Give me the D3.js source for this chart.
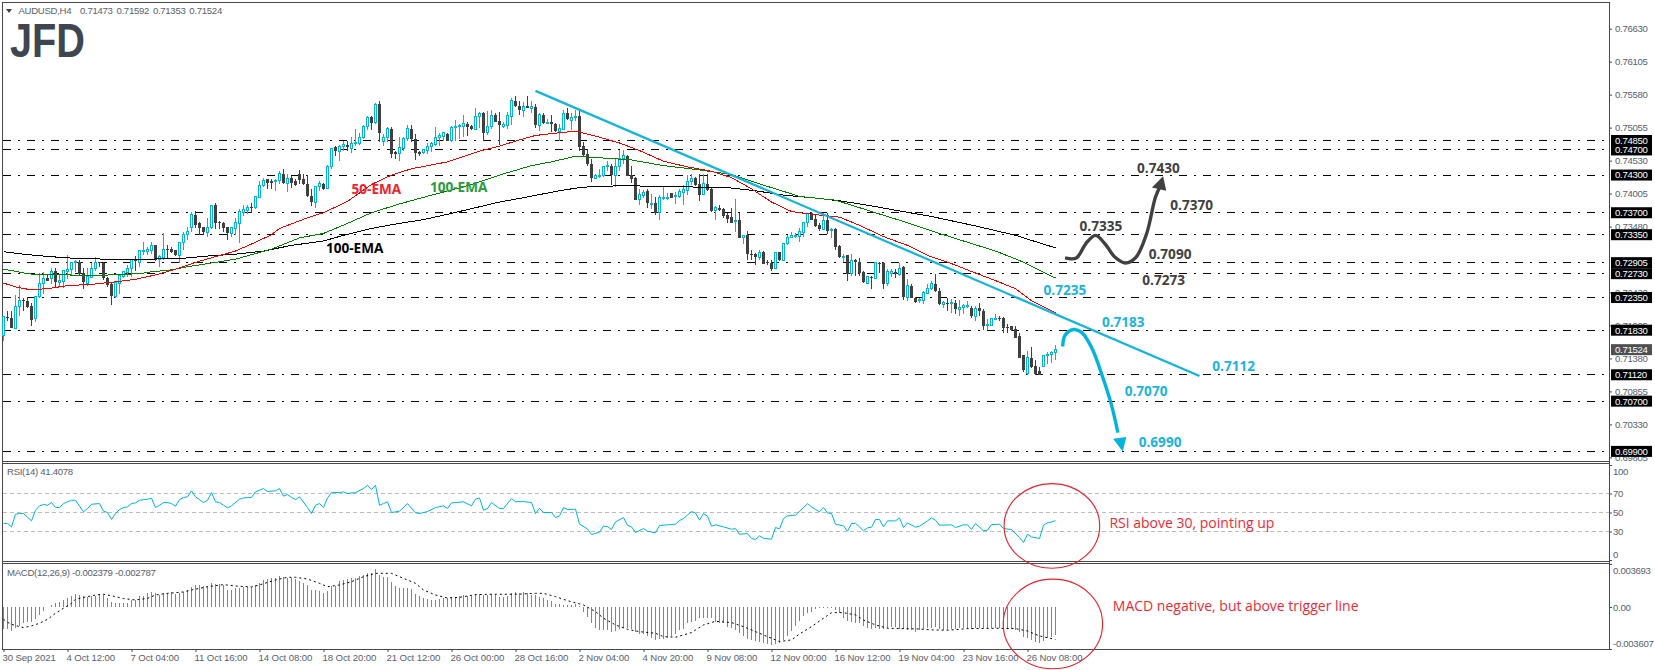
<!DOCTYPE html>
<html>
<head>
<meta charset="utf-8">
<title>AUDUSD H4</title>
<script src="https://cdn.jsdelivr.net/npm/d3@7"></script>
<style>
  body { margin: 0; background: #fff; }
  svg { display: block; font-family: "Liberation Sans", Arial, sans-serif; }
  .tick text, .small { font-size: 9.6px; letter-spacing: -0.3px; fill: #56616e; }
  .dates .tick text { letter-spacing: -0.1px; }
  .head { word-spacing: 1.5px; }
  .domain { display: none; }
  .tick line { stroke: #444; }
  .note { font-family: "Open Sans", sans-serif; font-weight: 700; font-size: 13.6px; }
  .red { font-family: "Open Sans", sans-serif; font-size: 14px; fill: #ee2a36; }
</style>
</head>
<body>
<svg id="chart" width="1655" height="670"></svg>
<script>
// prices are kept as price x 10000, MACD as value x 100000
var opens = [7175,7204,7203,7186,7221,7231,7230,7222,7202,7237,
  7257,7266,7266,7278,7259,7261,7277,7280,7290,7292,
  7274,7257,7267,7282,7291,7290,7266,7257,7237,7258,
  7268,7275,7281,7295,7291,7308,7309,7310,7318,7295,
  7299,7313,7313,7310,7302,7322,7335,7347,7367,7353,
  7347,7339,7347,7382,7355,7354,7347,7337,7345,7353,
  7371,7374,7379,7378,7395,7414,7423,7421,7420,7421,
  7432,7417,7425,7420,7431,7423,7415,7397,7387,7412,
  7416,7408,7443,7474,7468,7476,7478,7473,7480,7481,
  7489,7508,7522,7513,7543,7484,7489,7504,7467,7465,
  7472,7488,7504,7488,7467,7466,7469,7475,7479,7489,
  7492,7496,7485,7505,7508,7508,7512,7508,7503,7523,
  7528,7497,7507,7525,7516,7508,7509,7524,7548,7540,
  7533,7540,7536,7539,7509,7526,7513,7515,7512,7500,
  7502,7528,7517,7521,7524,7476,7463,7448,7425,7428,
  7430,7443,7445,7430,7443,7456,7461,7430,7425,7391,
  7397,7404,7383,7386,7371,7393,7393,7401,7396,7396,
  7403,7406,7420,7425,7416,7399,7416,7408,7374,7378,
  7376,7366,7363,7356,7358,7330,7334,7305,7304,7299,
  7307,7292,7290,7282,7307,7294,7321,7330,7332,7332,
  7339,7354,7370,7360,7350,7343,7359,7342,7344,7317,
  7299,7302,7273,7294,7292,7275,7258,7268,7266,7290,
  7290,7257,7273,7276,7272,7284,7235,7254,7235,7230,
  7231,7242,7249,7257,7246,7224,7226,7226,7227,7216,
  7219,7222,7219,7205,7218,7213,7191,7191,7201,7203,
  7203,7188,7189,7185,7173,7143,7114,7139,7126,7118,
  7125,7143,7145,7147];
var highs = [7204,7213,7214,7239,7255,7235,7236,7227,7237,7274,
  7275,7273,7282,7282,7272,7279,7303,7291,7294,7294,
  7282,7282,7290,7300,7292,7292,7268,7259,7260,7271,
  7277,7287,7297,7301,7311,7324,7316,7324,7318,7302,
  7338,7319,7315,7311,7323,7339,7347,7371,7372,7355,
  7348,7361,7381,7385,7357,7356,7348,7347,7362,7376,
  7382,7382,7385,7396,7421,7426,7423,7423,7424,7436,
  7440,7431,7429,7423,7438,7431,7430,7407,7413,7420,
  7418,7446,7473,7476,7478,7485,7484,7491,7504,7497,
  7510,7524,7524,7545,7548,7496,7506,7506,7469,7491,
  7491,7510,7510,7496,7469,7471,7481,7482,7506,7497,
  7498,7497,7508,7517,7512,7525,7514,7510,7536,7531,
  7531,7532,7534,7528,7531,7515,7531,7552,7556,7548,
  7546,7556,7548,7543,7528,7528,7520,7525,7513,7512,
  7533,7536,7528,7533,7533,7483,7472,7456,7432,7440,
  7445,7452,7448,7456,7470,7470,7462,7444,7427,7407,
  7406,7407,7400,7395,7398,7411,7401,7401,7403,7408,
  7414,7430,7431,7427,7431,7431,7431,7411,7380,7382,
  7378,7370,7378,7392,7370,7335,7341,7311,7306,7311,
  7309,7294,7294,7307,7308,7322,7335,7339,7338,7345,
  7355,7370,7371,7368,7353,7369,7369,7345,7346,7318,
  7305,7303,7305,7297,7298,7277,7270,7270,7292,7291,
  7292,7281,7281,7281,7290,7285,7265,7257,7236,7234,
  7245,7256,7262,7273,7250,7230,7235,7233,7231,7231,
  7225,7230,7222,7222,7227,7217,7201,7202,7209,7206,
  7204,7193,7190,7190,7178,7144,7150,7157,7135,7125,
  7143,7149,7150,7159];
var lows = [7166,7197,7186,7186,7205,7213,7219,7190,7196,7235,
  7240,7262,7257,7250,7251,7250,7265,7271,7275,7270,
  7248,7254,7266,7278,7283,7263,7252,7223,7235,7240,
  7266,7267,7268,7278,7284,7302,7302,7305,7293,7284,
  7295,7298,7306,7301,7290,7311,7327,7339,7345,7334,
  7334,7332,7344,7344,7344,7340,7327,7332,7334,7322,
  7365,7368,7369,7376,7394,7411,7408,7408,7404,7415,
  7416,7403,7410,7413,7415,7414,7395,7381,7378,7404,
  7406,7407,7440,7461,7453,7468,7468,7465,7477,7478,
  7488,7501,7501,7512,7482,7477,7483,7457,7456,7452,
  7468,7485,7483,7454,7461,7464,7464,7467,7477,7477,
  7485,7484,7483,7485,7488,7491,7492,7502,7501,7505,
  7485,7494,7504,7514,7478,7505,7504,7509,7538,7526,
  7522,7536,7529,7505,7500,7511,7512,7499,7499,7485,
  7501,7517,7502,7516,7468,7459,7444,7419,7424,7426,
  7427,7436,7414,7411,7436,7448,7428,7417,7390,7382,
  7394,7378,7376,7367,7358,7390,7391,7393,7384,7394,
  7383,7398,7414,7412,7389,7398,7405,7371,7359,7373,
  7362,7354,7353,7339,7329,7321,7294,7295,7287,7294,
  7288,7287,7278,7281,7293,7293,7318,7329,7330,7323,
  7331,7347,7358,7347,7341,7342,7336,7330,7310,7298,
  7291,7261,7270,7270,7270,7258,7257,7249,7265,7274,
  7248,7254,7268,7266,7270,7231,7230,7234,7227,7227,
  7225,7241,7247,7243,7223,7219,7214,7210,7209,7206,
  7209,7218,7203,7197,7206,7183,7183,7189,7199,7198,
  7179,7178,7181,7171,7138,7117,7112,7122,7112,7111,
  7125,7129,7130,7135];
var closes = [7204,7202,7187,7221,7231,7229,7220,7200,7237,7257,
  7265,7262,7276,7259,7262,7278,7280,7290,7293,7272,
  7260,7268,7282,7291,7290,7266,7255,7237,7259,7270,
  7276,7281,7295,7294,7310,7310,7311,7318,7295,7300,
  7312,7312,7307,7302,7322,7335,7340,7367,7351,7345,
  7339,7347,7381,7353,7353,7345,7337,7346,7355,7372,
  7375,7378,7378,7396,7414,7422,7417,7418,7421,7433,
  7418,7425,7418,7414,7422,7415,7396,7387,7412,7416,
  7408,7444,7472,7469,7476,7478,7474,7480,7482,7490,
  7508,7522,7513,7543,7497,7490,7504,7464,7463,7474,
  7488,7504,7488,7465,7464,7470,7475,7480,7490,7493,
  7497,7485,7506,7508,7509,7512,7507,7503,7523,7528,
  7497,7507,7525,7515,7509,7511,7525,7548,7540,7534,
  7539,7537,7539,7509,7526,7513,7514,7511,7500,7504,
  7528,7519,7521,7524,7475,7462,7448,7425,7430,7430,
  7444,7445,7430,7444,7456,7461,7429,7423,7391,7399,
  7403,7386,7385,7370,7394,7394,7395,7394,7398,7404,
  7407,7420,7425,7414,7399,7416,7406,7372,7379,7374,
  7364,7360,7354,7358,7330,7334,7304,7302,7299,7306,
  7289,7290,7281,7306,7294,7321,7331,7333,7334,7340,
  7354,7369,7359,7349,7344,7358,7341,7344,7315,7299,
  7301,7273,7294,7292,7274,7259,7268,7266,7290,7288,
  7257,7277,7276,7273,7282,7236,7254,7235,7228,7232,
  7243,7249,7257,7245,7224,7227,7225,7227,7216,7219,
  7223,7222,7205,7218,7213,7190,7192,7201,7202,7202,
  7187,7187,7183,7171,7139,7119,7139,7124,7113,7112,
  7142,7145,7147,7152];

// moving averages, read at the bars where the curve bends
var ema50Bars = [0,3,7,12,16,22,28,33,38,43,48,53,58,63,67,69,76,80,86,92,97,102,111,119,124,129,133,137,143,148,154,159,165,171,177,182,187,192,197,199,203,209,214,220,226,231,237,243,248,253,257,263];
var ema50 = [7258,7252,7247,7250,7254,7256,7260,7264,7271,7280,7291,7300,7309,7323,7335,7345,7362,7370,7388,7415,7430,7440,7451,7468,7476,7486,7493,7496,7500,7492,7481,7469,7452,7443,7436,7426,7408,7387,7372,7370,7367,7363,7350,7332,7318,7302,7289,7274,7262,7249,7230,7211];
var ema100Bars = [0,2,6,9,16,21,27,34,37,42,46,53,58,63,67,74,80,86,92,99,107,116,124,132,137,143,148,157,165,173,182,190,199,208,218,226,234,241,248,254,263];
var ema100 = [7280,7278,7273,7271,7271,7270,7271,7273,7276,7279,7284,7291,7296,7305,7312,7330,7337,7353,7370,7384,7398,7413,7430,7445,7451,7460,7458,7454,7445,7439,7431,7414,7396,7390,7370,7354,7337,7323,7309,7294,7266];
var ema200Bars = [0,5,10,16,22,28,35,44,51,58,65,72,80,85,92,98,105,112,118,124,130,139,144,148,156,163,172,181,188,195,202,209,216,223,232,243,253,263];
var ema200 = [7308,7304,7301,7298,7297,7295,7296,7297,7301,7304,7309,7318,7325,7334,7345,7352,7359,7369,7378,7387,7394,7405,7410,7412,7413,7412,7411,7410,7405,7398,7394,7389,7382,7374,7364,7349,7334,7314];

var rsiBars = [0,1,2,3,4,5,7,8,9,10,11,12,13,14,15,16,17,18,20,21,22,24,25,26,27,28,29,30,31,32,33,34,36,37,38,39,40,41,42,43,44,45,46,47,48,50,51,52,53,54,55,56,57,59,60,62,63,65,66,68,69,70,71,72,73,74,76,77,78,79,80,81,82,84,85,86,88,90,91,92,93,94,95,96,97,98,99,101,103,104,106,108,110,111,112,115,117,118,119,120,121,122,124,125,127,128,130,132,133,134,135,137,138,139,140,141,143,144,146,147,149,150,151,152,153,155,156,157,158,160,161,163,164,166,168,169,170,172,173,174,175,176,177,178,180,182,183,184,186,187,188,189,190,192,193,194,195,196,198,200,201,202,204,205,206,207,208,210,211,212,213,215,216,217,218,219,220,221,223,224,225,226,228,229,231,232,233,234,237,238,240,241,242,243,245,246,247,249,250,252,254,255,256,257,259,260,261,262,263];
var rsiValues = [38.4,38.4,34.9,48.2,48.9,48.9,41.2,52.4,57,58.4,57.7,60.5,55.2,55.2,59.4,61.2,62.9,62.9,50.7,54.2,58.7,59.4,51.4,50,42.6,48.9,53.1,55.2,55.9,59.4,60.1,62.9,64,65,55.2,57.7,60.5,60.5,59.4,56.6,63.6,65.8,66.5,72.8,66.5,60.5,62.9,71,61.2,60.5,57.7,54.9,57,64,65.4,65.8,71.7,75.2,72.1,72.8,75.2,67.2,68.9,65.8,63.6,66.5,55.2,48.9,57.7,59.4,55.2,65.4,71,71,71.7,70,71,75.2,78.7,74.2,78.7,57.7,59.4,61.2,50,50.7,51.4,59.4,49.6,48.9,51,55.2,57,54.2,60.1,61.2,57,64,65.4,52.4,54.2,60.5,54.2,54.2,64.7,61.2,61.5,60.5,48.9,54.2,50,50,44.7,46.4,55.2,53.1,53.5,37.7,32.8,26.8,29.3,35.6,35.2,32.1,40.1,44.7,36.6,34.9,28.9,33.1,30.3,28.6,36.3,37,37.7,41.5,43.6,51,49.6,41.9,48.9,46.1,35.6,37,34.9,32.4,33.1,27.1,27.8,22.6,21.5,25.4,22.9,21.9,34.2,32.8,43.6,46.4,47.2,55.2,59.4,55.9,50.7,55.2,49.6,48.9,37.7,35.9,30.3,38.4,38.7,30.7,33.8,34.5,42.6,42.6,34.9,41.2,41.2,44.3,34.2,39.1,34.5,35.6,41.2,44.3,41.9,36.6,37,34.2,37,37,32.1,38.4,30.7,31.4,37.3,37.7,33.1,32.1,23.6,18.4,27.1,24.3,22.6,36.6,39.1,40,41.4];
var rsiLevels = [70,50,30];

var macdHist = [-189,-189,-206,-183,-163,-140,-129,-129,-106,-72,-37,0,17,31,43,60,77,97,109,106,
  94,89,94,97,100,103,74,40,37,34,34,34,60,60,94,97,117,126,117,100,
  117,117,126,114,123,129,146,169,189,186,180,180,203,197,197,186,146,146,160,166,
  169,169,174,189,209,232,237,246,252,266,255,252,249,240,226,209,189,146,146,140,
  123,140,180,180,226,232,237,249,249,266,277,289,295,323,277,260,255,217,180,163,
  160,160,152,112,94,80,69,63,63,69,80,77,83,89,97,103,94,94,112,114,
  103,106,109,100,86,86,94,120,126,117,129,117,106,100,89,77,60,51,23,23,
  20,20,20,23,11,-40,-83,-134,-177,-197,-197,-197,-212,-206,-192,-177,-177,-189,-212,-232,
  -232,-249,-263,-280,-277,-272,-269,-246,-235,-197,-189,-137,-129,-117,-97,-97,-97,-92,-126,-134,
  -140,-169,-183,-197,-220,-249,-277,-283,-289,-297,-306,-317,-326,-320,-306,-283,-249,-206,-163,-120,
  -77,-54,-46,-14,-9,-9,-6,-11,-26,-54,-97,-117,-126,-134,-140,-163,-183,-189,-177,-192,
  -192,-183,-174,-174,-186,-192,-197,-200,-212,-197,-192,-183,-183,-174,-189,-197,-197,-189,-192,-183,
  -183,-189,-192,-183,-183,-183,-183,-183,-183,-183,-189,-183,-186,-197,-212,-255,-263,-283,-297,-306,
  -289,-269,-255,-238];
var signalBars = [0,1,2,4,5,7,9,11,13,15,17,18,21,23,25,28,30,33,36,38,41,45,47,51,55,58,62,64,68,71,73,76,79,81,84,87,90,93,97,100,103,105,108,111,114,118,122,128,133,135,138,141,145,148,150,153,156,159,163,165,168,172,175,178,182,185,188,191,194,197,199,202,205,207,210,213,215,218,221,225,229,232,236,241,248,253,256,259,263];
var signalValues = [-106,-132,-149,-169,-177,-163,-140,-106,-54,-11,31,66,89,103,109,89,72,60,74,103,117,129,146,174,192,180,172,189,232,255,255,240,203,174,189,217,260,289,289,246,203,146,103,77,83,106,109,109,117,117,89,54,17,-40,-97,-154,-192,-212,-226,-255,-260,-220,-154,-123,-134,-169,-212,-255,-297,-283,-232,-169,-97,-49,-49,-69,-112,-154,-183,-186,-189,-197,-200,-186,-183,-186,-206,-249,-279];

var srLevels = [7485,7470,7430,7370,7335,7290.5,7273,7235,7183,7112,7070,6990];
var srLabels = ["0.74850","0.74700","0.74300","0.73700","0.73350","0.72905","0.72730","0.72350","0.71830","0.71120","0.70700","0.69900"];
var priceTicks = [7663,7610.5,7558,7505.5,7453,7400.5,7348,7243,7190.5,7138,7085.5,7033,6980.5];
var dateLabels = ["30 Sep 2021","4 Oct 12:00","7 Oct 04:00","11 Oct 16:00","14 Oct 08:00","18 Oct 20:00","21 Oct 12:00","26 Oct 00:00","28 Oct 16:00","2 Nov 04:00","4 Nov 20:00","9 Nov 08:00","12 Nov 00:00","16 Nov 12:00","19 Nov 04:00","23 Nov 16:00","26 Nov 08:00"];

// drawn objects on the chart, in bar number / price
var trendBars = [133,299];
var trendPrices = [7564,7110];
var upPathBars = [265.4,268.2,270.6,273,275.3,277.9,280.5,283.1,285.8,288,289.4];
var upPathPrices = [7298,7298,7321,7334,7321,7299,7290,7299,7337,7395,7415];
var upHeadBars = [289.9,287.1,290.7];
var upHeadPrices = [7428,7410,7405];
var downPathBars = [264.8,265.4,267.5,269.6,272.2,274.8,276.9,278.6];
var downPathPrices = [7157,7175,7184,7179,7153,7108,7066,7020];
var downHeadBars = [279.8,277.4,280.7];
var downHeadPrices = [6990,7010,7013];
var noteText = ["0.7430","0.7370","0.7335","0.7090","0.7273","0.7235","0.7183","0.7112","0.7070","0.6990"];
var noteBars = [283.4,291.7,269,286.3,284.7,260,274.6,302.2,280.3,283.8];
var notePrices = [7441,7382,7349,7304,7263,7247,7196,7126,7086,7005];
var noteColors = ["#404040","#404040","#404040","#404040","#404040","#1cb4dc","#1cb4dc","#1cb4dc","#1cb4dc","#1cb4dc"];

var CYAN = "#00b4dc", DARK = "#404040";
var svg = d3.select("#chart");

var x = d3.scaleLinear().domain([0,400]).range([3.5,1603.5]);
var yPrice = d3.scaleLinear().domain([7485,6990]).range([140.5,451.4]);
var yRsi = d3.scaleLinear().domain([0,100]).range([560,465]);
var yMacd = d3.scaleLinear().domain([-361,369]).range([649,564]);

// frame
var frame = svg.append("g").attr("stroke","#484848").attr("fill","none").attr("shape-rendering","crispEdges");
frame.append("path").attr("d","M2.5 649.5V2.5H1609.5V649.5H2.5");
[461.5,463.5,561.5,563.5].forEach(function(yy) {
  frame.append("line").attr("x1",2).attr("x2",1610).attr("y1",yy).attr("y2",yy);
});

// horizontal support and resistance
svg.append("g").selectAll("line").data(srLevels).enter().append("line")
  .attr("x1",3).attr("x2",1605)
  .attr("y1",function(d) { return yPrice(d); })
  .attr("y2",function(d) { return yPrice(d); })
  .attr("stroke","#000").attr("stroke-dasharray","8.3 6.7 2.4 6.6")
  .attr("shape-rendering","crispEdges");

// candles
var candles = svg.append("g").attr("shape-rendering","crispEdges");
opens.forEach(function(o,i) {
  var up = closes[i] >= o;
  var cx = x(i);
  candles.append("line").attr("x1",cx).attr("x2",cx)
    .attr("y1",yPrice(highs[i])).attr("y2",yPrice(lows[i]))
    .attr("stroke",up ? CYAN : DARK);
  var top = yPrice(Math.max(o,closes[i])), h = Math.max(1,Math.abs(yPrice(o)-yPrice(closes[i])));
  if (up) {
    candles.append("rect").attr("x",cx-1).attr("width",2).attr("y",top).attr("height",h)
      .attr("fill","#fff").attr("stroke",CYAN);
  } else {
    candles.append("rect").attr("x",cx-1.5).attr("width",3).attr("y",top).attr("height",h)
      .attr("fill",DARK);
  }
});

function drawLine(bars,values,yScale,color,width,curve) {
  var line = d3.line()
    .x(function(d) { return x(d[0]); })
    .y(function(d) { return yScale(d[1]); });
  if (curve) line.curve(curve);
  return svg.append("path").datum(d3.zip(bars,values))
    .attr("d",line).attr("fill","none").attr("stroke",color).attr("stroke-width",width);
}

drawLine(ema200Bars,ema200,yPrice,"#000",1).attr("shape-rendering","crispEdges");
drawLine(ema100Bars,ema100,yPrice,"#008000",1).attr("shape-rendering","crispEdges");
drawLine(ema50Bars,ema50,yPrice,"#f00000",1).attr("shape-rendering","crispEdges");

// trend line and scenario arrows
drawLine(trendBars,trendPrices,yPrice,"#12b4dc",2.2);
drawLine(upPathBars,upPathPrices,yPrice,DARK,3.4,d3.curveCatmullRom);
drawLine(downPathBars,downPathPrices,yPrice,CYAN,3.4,d3.curveCatmullRom);
svg.append("polygon").attr("fill",DARK)
  .attr("points",d3.zip(upHeadBars,upHeadPrices).map(function(d) { return x(d[0])+","+yPrice(d[1]); }).join(" "));
svg.append("polygon").attr("fill",CYAN)
  .attr("points",d3.zip(downHeadBars,downHeadPrices).map(function(d) { return x(d[0])+","+yPrice(d[1]); }).join(" "));

svg.append("g").selectAll("text").data(noteText).enter().append("text")
  .attr("class","note")
  .attr("x",function(d,i) { return x(noteBars[i]); })
  .attr("y",function(d,i) { return yPrice(notePrices[i]); })
  .attr("dy","0.36em")
  .attr("fill",function(d,i) { return noteColors[i]; })
  .text(function(d) { return d; });

// EMA names
[["50-EMA",87,7408,"#f2222e"],["100-EMA",106.6,7411,"#2a9a3c"],["100-EMA",80.6,7313,"#000"]].forEach(function(n) {
  svg.append("text").attr("class","note").attr("x",x(n[1])).attr("y",yPrice(n[2])).attr("dy","0.36em")
    .attr("fill",n[3]).text(n[0]);
});

// RSI panel
svg.append("g").selectAll("line").data(rsiLevels).enter().append("line")
  .attr("x1",3).attr("x2",1609)
  .attr("y1",function(d) { return yRsi(d); })
  .attr("y2",function(d) { return yRsi(d); })
  .attr("stroke","#bdbdbd").attr("stroke-dasharray","4 3").attr("shape-rendering","crispEdges");
drawLine(rsiBars,rsiValues,yRsi,CYAN,1);

// MACD panel
svg.append("g").selectAll("line").data(macdHist).enter().append("line")
  .attr("x1",function(d,i) { return x(i); })
  .attr("x2",function(d,i) { return x(i); })
  .attr("y1",yMacd(0))
  .attr("y2",function(d) { return yMacd(d); })
  .attr("stroke",CYAN).attr("shape-rendering","crispEdges");
drawLine(signalBars,signalValues,yMacd,"#000",1).attr("stroke-dasharray","2 3");

// axes
var priceAxis = svg.append("g").attr("transform","translate(1609,0)")
  .call(d3.axisRight(yPrice).tickValues(priceTicks).tickSize(3).tickPadding(3)
    .tickFormat(function(d) { return "0." + d3.format("05d")(Math.round(d*10)); }));
var rsiAxis = svg.append("g").attr("transform","translate(1609,0)")
  .call(d3.axisRight(yRsi).tickValues([100,70,50,30,0]).tickSize(3).tickPadding(1));
rsiAxis.selectAll(".tick text").attr("dy",function(d) { return d === 100 ? "1.0em" : d === 0 ? "-0.3em" : "0.32em"; });
var macdTickText = {"369":"0.003693","0":"0.00","-361":"-0.003607"};
var macdAxis = svg.append("g").attr("transform","translate(1609,0)")
  .call(d3.axisRight(yMacd).tickValues([369,0,-361]).tickSize(3).tickPadding(1)
    .tickFormat(function(d) { return macdTickText[d]; }));
macdAxis.selectAll(".tick text").attr("dy",function(d) { return d === 369 ? "1.0em" : d === -361 ? "-0.3em" : "0.32em"; });

var dateAxis = svg.append("g").attr("class","dates").attr("transform","translate(0,649)")
  .call(d3.axisBottom(x).tickValues(dateLabels.map(function(d,i) { return i*16; })).tickSize(3).tickPadding(2)
    .tickFormat(function(d) { return dateLabels[d/16]; }));
dateAxis.selectAll(".tick text").attr("text-anchor","start").attr("dx",-1.5);

// price tags on the axis
var tags = svg.append("g");
srLevels.forEach(function(d,i) {
  var yy = yPrice(d);
  tags.append("rect").attr("x",1611).attr("width",41).attr("y",yy-5.5).attr("height",11).attr("fill","#000");
  tags.append("text").attr("x",1615).attr("y",yy).attr("dy","0.35em").attr("class","small")
    .style("fill","#fff").text(srLabels[i]);
});
tags.append("rect").attr("x",1611).attr("width",41).attr("y",yPrice(7152)-5.5).attr("height",11).attr("fill","#505050");
tags.append("text").attr("x",1615).attr("y",yPrice(7152)).attr("dy","0.35em").attr("class","small")
  .style("fill","#fff").text("0.71524");

// header
svg.append("path").attr("d","M6 9H12L9 13Z").attr("fill","#404040");
svg.append("text").attr("class","small").attr("x",18.5).attr("y",14).text("AUDUSD,H4");
svg.append("text").attr("class","small head").attr("x",80).attr("y",14).text("0.71473 0.71592 0.71353 0.71524");
svg.append("text").attr("class","small").attr("x",7).attr("y",475).text("RSI(14) 41.4078");
svg.append("text").attr("class","small").attr("x",7).attr("y",575.5).text("MACD(12,26,9) -0.002379 -0.002787");

// logo
svg.append("text").attr("x",10).attr("y",57).attr("textLength",75).attr("lengthAdjust","spacingAndGlyphs")
  .attr("font-weight",700).attr("font-size",49).attr("fill","#3e4650").text("JFD");

// red circles and comments
svg.append("ellipse").attr("cx",x(262.1)).attr("cy",yRsi(35.9)).attr("rx",47.8).attr("ry",42.3)
  .attr("fill","none").attr("stroke","#e8202c").attr("stroke-width",1.1);
svg.append("ellipse").attr("cx",x(262.35)).attr("cy",yMacd(-146)).attr("rx",49.7).attr("ry",44.8)
  .attr("fill","none").attr("stroke","#e8202c").attr("stroke-width",1.1);
svg.append("text").attr("class","red").attr("x",1109.4).attr("y",523.3).attr("dy","0.35em").text("RSI above 30, pointing up");
svg.append("text").attr("class","red").attr("x",1112.8).attr("y",606).attr("dy","0.35em").text("MACD negative, but above trigger line");
</script>
</body>
</html>
